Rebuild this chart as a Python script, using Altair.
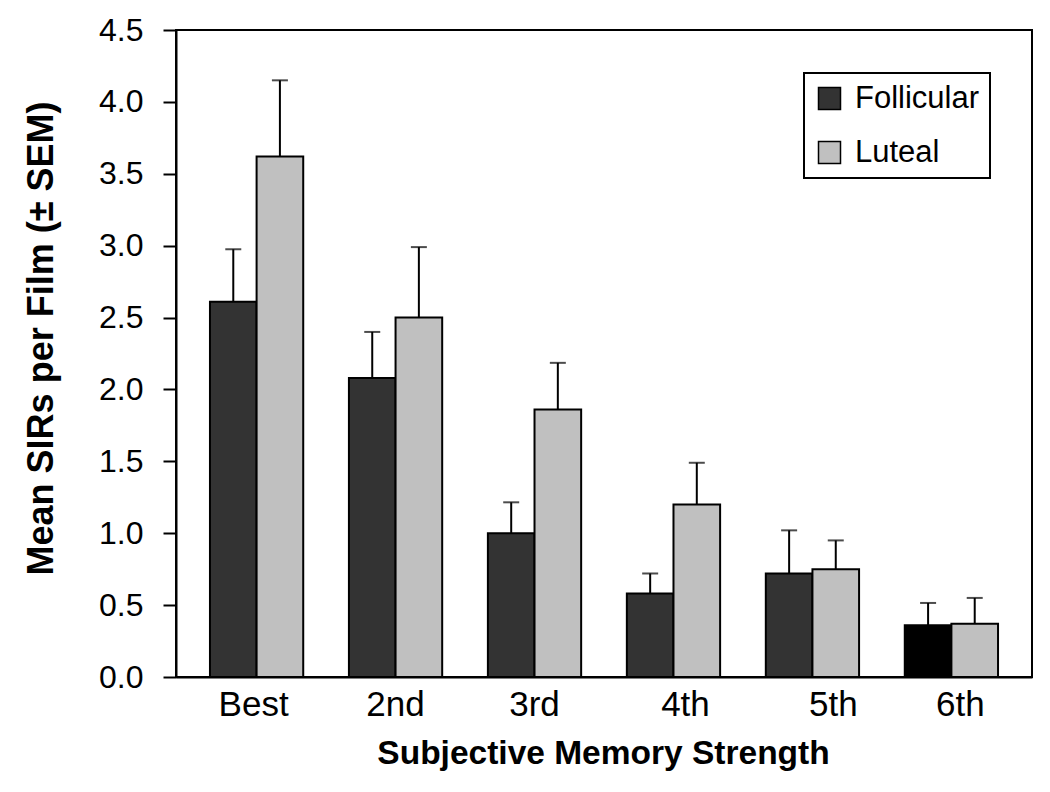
import altair as alt
import pandas as pd

groups = ["Best", "2nd", "3rd", "4th", "5th", "6th"]
phases = ["Follicular", "Luteal"]
foll_mean = [2.61, 2.08, 1.00, 0.58, 0.72, 0.36]
foll_sem = [0.365, 0.32, 0.215, 0.14, 0.30, 0.155]
lut_mean = [3.62, 2.50, 1.86, 1.20, 0.75, 0.37]
lut_sem = [0.53, 0.49, 0.325, 0.29, 0.20, 0.18]

rows = []
for g, m, s in zip(groups, foll_mean, foll_sem):
    rows.append({"group": g, "phase": "Follicular", "mean": m, "top": m + s})
for g, m, s in zip(groups, lut_mean, lut_sem):
    rows.append({"group": g, "phase": "Luteal", "mean": m, "top": m + s})
df = pd.DataFrame(rows)

FONT = "Liberation Sans"

x_enc = alt.X(
    "group:N",
    sort=groups,
    scale=alt.Scale(paddingInner=0, paddingOuter=0.08),
    axis=alt.Axis(
        title="Subjective Memory Strength",
        labelAngle=0,
        labelAlign="center",
        ticks=False,
        tickSize=0,
        labelFontSize=35,
        labelFont=FONT,
        labelColor="black",
        labelBaseline="alphabetic",
        labelPadding=38,
        labelOffset={
            "condition": [
                {"test": "datum.value == 'Best'", "value": -3},
                {"test": "datum.value == '4th'", "value": 12},
                {"test": "datum.value == '5th'", "value": 21},
                {"test": "datum.value == '6th'", "value": 9},
            ],
            "value": 0,
        },
        titleFont=FONT,
        titleFontSize=33.5,
        titleFontWeight="bold",
        titleColor="black",
        titleX=427,
        titleY=86,
        titleAlign="center",
        titleBaseline="alphabetic",
        domainColor="black",
        domainWidth=2,
    ),
)
xoff = alt.XOffset("phase:N", sort=phases, scale=alt.Scale(paddingInner=0, paddingOuter=0.49))

y_scale = alt.Scale(domain=[0, 4.5], nice=False, zero=True)

bars = alt.Chart(df).mark_bar(stroke="black", strokeWidth=2).encode(
    x=x_enc,
    xOffset=xoff,
    y=alt.Y(
        "mean:Q",
        scale=y_scale,
        axis=alt.Axis(
            title="Mean SIRs per Film (± SEM)",
            values=[0, 0.5, 1, 1.5, 2, 2.5, 3, 3.5, 4, 4.5],
            format=".1f",
            grid=False,
            tickSize=13,
            tickWidth=2,
            tickColor="black",
            labelFontSize=32,
            labelFont=FONT,
            labelColor="black",
            labelPadding=20,
            domainColor="black",
            domainWidth=2,
            titleFont=FONT,
            titleFontSize=36,
            titleFontWeight="bold",
            titleColor="black",
            titleAngle=270,
            titleX=-124,
            titleY=308,
            titleAlign="center",
            titleBaseline="alphabetic",
        ),
    ),
    fill=alt.condition(
        "datum.group == '6th' && datum.phase == 'Follicular'",
        alt.value("#000000"),
        alt.Fill(
            "phase:N",
            sort=phases,
            scale=alt.Scale(domain=phases, range=["#333333", "#c0c0c0"]),
            legend=alt.Legend(
                title=None,
                orient="none",
                legendX=628,
                legendY=43,
                symbolType="square",
                symbolSize=484,
                symbolStrokeColor="black",
                symbolStrokeWidth=1.5,
                labelFontSize=31,
                labelFont=FONT,
                labelColor="black",
                labelOffset=10,
                rowPadding=22,
                padding=10,
                strokeColor="black",
                fillColor="white",
            ),
        ),
    ),
)

err_rule = alt.Chart(df).mark_rule(color="black", strokeWidth=2).encode(
    x=alt.X("group:N", sort=groups),
    xOffset=xoff,
    y=alt.Y("mean:Q", scale=y_scale),
    y2="top:Q",
)

err_cap = alt.Chart(df).mark_tick(color="black", thickness=2, size=16, orient="horizontal").encode(
    x=alt.X("group:N", sort=groups),
    xOffset=xoff,
    y=alt.Y("top:Q", scale=y_scale),
)

chart = (
    alt.layer(err_rule, err_cap, bars)
    .properties(
        width=856,
        height=647,
        autosize=alt.AutoSizeParams(type="none"),
        padding={"left": 168, "top": 22, "right": 10, "bottom": 107},
        background="white",
    )
    .configure_view(stroke="black", strokeWidth=2)
    .configure_legend(strokeWidth=2)
)

chart.save("out.html", embed_options={"renderer": "svg", "actions": False})
